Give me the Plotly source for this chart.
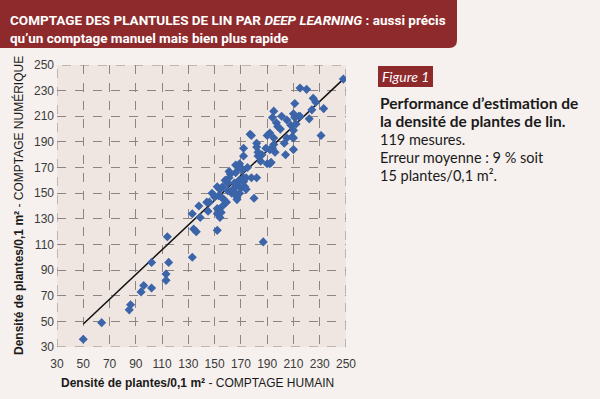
import plotly.graph_objects as go

# Data: (human count, numeric count) per 0.1 m²
human = [248,215,220,225,227,211,224,233,195,194,201,197,198,208,210,211,214,215,212,222,
         210,209,205,203,210,210,204,231,195,195,194,196,192,190,192,192,193,190,189,183,
         183,177,178,182,182,186,172,172,169,166,161,162,168,170,171,172,172,174,178,182,
         180,169,166,161,160,167,164,170,173,174,163,166,169,167,156,152,154,153,150,155,
         157,148,138,144,
         50,64,85,86,94,96,102,102,115,113,113,114,133,133,134,136,139,145,146,152,
         152,152,154,155,156,159,187,167,
         160,158,175,200,185,165,205]
numeric = [239,232,231,224,221,220,215,216,214,209,210,205,202,203,212,209,210,210,204,208,
           199,194,193,189,193,184,180,195,193,188,185,182,197,195,184,173,174,173,185,182,
           179,196,195,189,186,180,185,179,173,172,167,165,170,170,168,162,159,162,162,162,
           146,160,166,162,158,156,153,154,155,153,150,150,150,147,155,155,153,148,147,147,
           145,150,140,143,
           36,49,59,63,73,78,76,96,96,87,82,116,100,134,122,120,131,136,143,121,
           138,134,131,135,140,143,112,145,
           152,160,170,200,175,158,207]

fit_x = [50, 248]
fit_y = [48, 239]

x_ticks = list(range(30, 251, 20))
y_ticks = list(range(30, 251, 20))

W, H = 600, 399
L, R, T, B = 57, 346, 65, 347


def px(x):
    return (x - L) / (R - L)


def py(y):
    return (B - y) / (B - T)


RED = "#8e2a2c"
fig = go.Figure()
fig.add_trace(go.Scatter(x=fit_x, y=fit_y, mode="lines",
                         line=dict(color="#111111", width=1.5), hoverinfo="skip"))
fig.add_trace(go.Scatter(x=human, y=numeric, mode="markers",
                         marker=dict(symbol="diamond", size=7, color="#3b64a9",
                                     line=dict(width=0))))

axis_common = dict(showgrid=True, gridcolor="#8c8582", griddash="dash", gridwidth=1,
                   zeroline=False, showline=False, ticks="", automargin=False,
                   tickfont=dict(family="Liberation Sans Narrow, Liberation Sans, Arial", size=12,
                                 color="#3a3a3a"))
fig.update_xaxes(range=[30, 250], tickvals=x_ticks, ticklabelstandoff=8, **axis_common)
fig.update_yaxes(range=[30, 250], tickvals=y_ticks, ticklabelstandoff=2, **axis_common)

shapes = []
# border of plot area dashed
shapes.append(dict(type="rect", xref="x", yref="y", x0=30, x1=250, y0=30, y1=250,
                   line=dict(color="#8c8582", width=1, dash="dash"), layer="below"))
# title bar with rounded bottom-right corner
x0, x1 = px(0), px(457)
y0, y1 = py(0), py(48)
rx = 8 / (R - L)
ry = 8 / (B - T)
path = (f"M {x0},{y0} L {x1},{y0} L {x1},{y1 + ry} Q {x1},{y1} {x1 - rx},{y1} "
        f"L {x0},{y1} Z")
shapes.append(dict(type="path", xref="paper", yref="paper", path=path,
                   fillcolor=RED, line=dict(width=0)))
# Figure 1 label box
shapes.append(dict(type="rect", xref="paper", yref="paper", x0=px(378), x1=px(433),
                   y0=py(87), y1=py(66), fillcolor=RED, line=dict(width=0)))

ann = []
TFONT = "Liberation Sans Narrow, Roboto, Arial"
ann.append(dict(x=px(8), y=py(20), xref="paper", yref="paper", xanchor="left", yanchor="middle",
                showarrow=False,
                text="<b>COMPTAGE DES PLANTULES DE LIN PAR <i>DEEP LEARNING</i> : aussi précis</b>",
                font=dict(family=TFONT, size=13.5, color="white")))
ann.append(dict(x=px(8), y=py(38), xref="paper", yref="paper", xanchor="left", yanchor="middle",
                showarrow=False,
                text="<b>qu’un comptage manuel mais bien plus rapide</b>",
                font=dict(family=TFONT, size=13.5, color="white")))
ann.append(dict(x=px(405), y=py(76.5), xref="paper", yref="paper", xanchor="center",
                yanchor="middle", showarrow=False, text="<i>Figure 1</i>",
                font=dict(family="Lato, Open Sans", size=14, color="white")))
RFONT = "Lato, Open Sans"
lines = [("<b>Performance d’estimation de</b>", 103, 15.5),
         ("<b>la densité de plantes de lin.</b>", 121, 15.5),
         ("119 mesures.", 139, 14.5),
         ("Erreur moyenne : 9 % soit", 157, 14.5),
         ("15 plantes/0,1 m².", 175, 14.5)]
for txt, yy, sz in lines:
    ann.append(dict(x=px(378), y=py(yy), xref="paper", yref="paper", xanchor="left",
                    yanchor="middle", showarrow=False, text=txt,
                    font=dict(family=RFONT, size=sz, color="#1a1a1a")))
AFONT = "Liberation Sans Narrow, Liberation Sans, Arial"
ann.append(dict(x=px(197), y=py(383), xref="paper", yref="paper", xanchor="center",
                yanchor="middle", showarrow=False,
                text="<b>Densité de plantes/0,1 m²</b> - COMPTAGE HUMAIN",
                font=dict(family=AFONT, size=12, color="#1a1a1a")))
ann.append(dict(x=px(18), y=py(206), xref="paper", yref="paper", xanchor="center",
                yanchor="middle", showarrow=False, textangle=-90,
                text="<b>Densité de plantes/0,1 m²</b> - COMPTAGE NUMÉRIQUE",
                font=dict(family=AFONT, size=12, color="#1a1a1a")))

fig.update_layout(width=W, height=H, margin=dict(l=L, r=W - R, t=T, b=H - B),
                  paper_bgcolor="#f6f1ee", plot_bgcolor="#efe6e2",
                  showlegend=False, shapes=shapes, annotations=ann)
fig.write_html("out.html", config={"displayModeBar": False},
               post_script="document.body.style.margin='0';document.body.style.padding='0';")
